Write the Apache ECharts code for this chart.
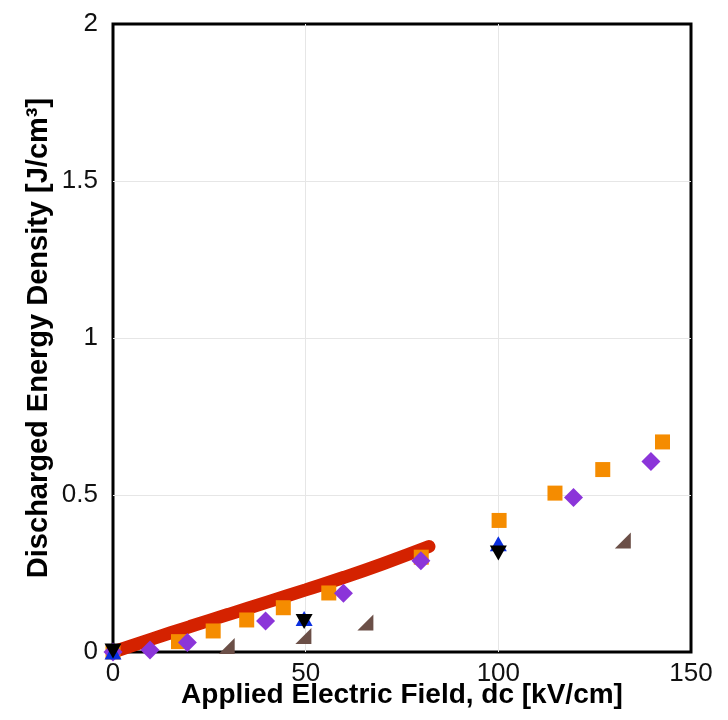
<!DOCTYPE html>
<html>
<head>
<meta charset="utf-8">
<script src="https://cdn.jsdelivr.net/npm/echarts@6/dist/echarts.min.js"></script>
<style>
    html, body { margin: 0; padding: 0; background: #fff; }
    #chart { width: 728px; height: 720px; }
</style>
</head>
<body>
<div id="chart"></div>
<script>
/* Values. */
let fit_line = [[0, 0], [10, 0.041], [20, 0.081], [30, 0.120], [40, 0.159], [50, 0.198], [60, 0.238], [70, 0.281], [82, 0.336]];
let orange_squares = [[0, 0], [17, 0.033], [26, 0.067], [34.7, 0.102], [44.2, 0.141], [56, 0.188], [80, 0.302], [100.2, 0.419], [114.7, 0.506], [127.1, 0.581], [142.6, 0.669]];
let purple_diamonds = [[0, 0], [9.6, 0.006], [19.3, 0.030], [39.6, 0.099], [59.8, 0.187], [79.9, 0.291], [119.5, 0.492], [139.6, 0.607]];
let blue_up = [[0, 0], [49.6, 0.107], [100, 0.345]];
let black_down = [[0, 0.003], [49.6, 0.097], [100, 0.315]];
let brown_corner = [[0, -0.002], [29.5, 0.019], [49.4, 0.051], [65.5, 0.094], [132.3, 0.355]];

let x_ticks = [0, 50, 100, 150];
let y_ticks = [0, 0.5, 1, 1.5, 2];

let chart = echarts.init(document.getElementById('chart'));

let font = 'Liberation Sans, Arial, sans-serif';

let options = {
    animation: false,
    grid: {
        left: 113,
        top: 24,
        right: 37,
        bottom: 68,
        show: true,
        borderColor: '#000',
        borderWidth: 3
    },
    xAxis: {
        type: 'value',
        min: x_ticks[0],
        max: x_ticks[x_ticks.length - 1],
        interval: 50,
        name: 'Applied Electric Field, dc [kV/cm]',
        nameLocation: 'middle',
        nameGap: 29,
        nameMoveOverlap: false,
        nameTextStyle: { fontFamily: font, fontWeight: 'bold', fontSize: 28, color: '#000' },
        axisLine: { show: false },
        axisTick: { show: false },
        axisLabel: { fontFamily: font, fontSize: 26, color: '#111', margin: 9 },
        splitLine: { show: true, showMinLine: false, showMaxLine: false, lineStyle: { color: '#e6e6e6', width: 1 } }
    },
    yAxis: {
        type: 'value',
        min: y_ticks[0],
        max: y_ticks[y_ticks.length - 1],
        interval: 0.5,
        name: 'Discharged Energy Density [J/cm\u00b3]',
        nameLocation: 'middle',
        nameGap: 60,
        nameMoveOverlap: false,
        nameTextStyle: { fontFamily: font, fontWeight: 'bold', fontSize: 29, color: '#000' },
        axisLine: { show: false },
        axisTick: { show: false },
        axisLabel: { fontFamily: font, fontSize: 26, color: '#111', margin: 15 },
        splitLine: { show: true, showMinLine: false, showMaxLine: false, lineStyle: { color: '#e6e6e6', width: 1 } }
    },
    series: [
        {
            type: 'line',
            data: fit_line,
            smooth: true,
            symbol: 'none',
            lineStyle: { color: '#d42200', width: 13, cap: 'round' },
            z: 1
        },
        {
            type: 'scatter',
            data: orange_squares,
            symbol: 'rect',
            symbolSize: 15,
            itemStyle: { color: '#f58c00', opacity: 1 },
            z: 2
        },
        {
            type: 'scatter',
            data: purple_diamonds,
            symbol: 'diamond',
            symbolSize: [19, 19],
            itemStyle: { color: '#8b35d9', opacity: 1 },
            z: 3
        },
        {
            type: 'scatter',
            data: blue_up,
            symbol: 'triangle',
            symbolSize: [17, 15],
            itemStyle: { color: '#0a2fe0', opacity: 1 },
            z: 4
        },
        {
            type: 'scatter',
            data: black_down,
            symbol: 'triangle',
            symbolRotate: 180,
            symbolSize: [17, 15],
            itemStyle: { color: '#000', opacity: 1 },
            z: 5
        },
        {
            type: 'scatter',
            data: brown_corner,
            symbol: 'path://M1,0 L1,1 L0,1 Z',
            symbolSize: 16,
            itemStyle: { color: '#6b4f47', opacity: 1 },
            z: 6
        }
    ]
};

chart.setOption(options);
</script>
</body>
</html>
